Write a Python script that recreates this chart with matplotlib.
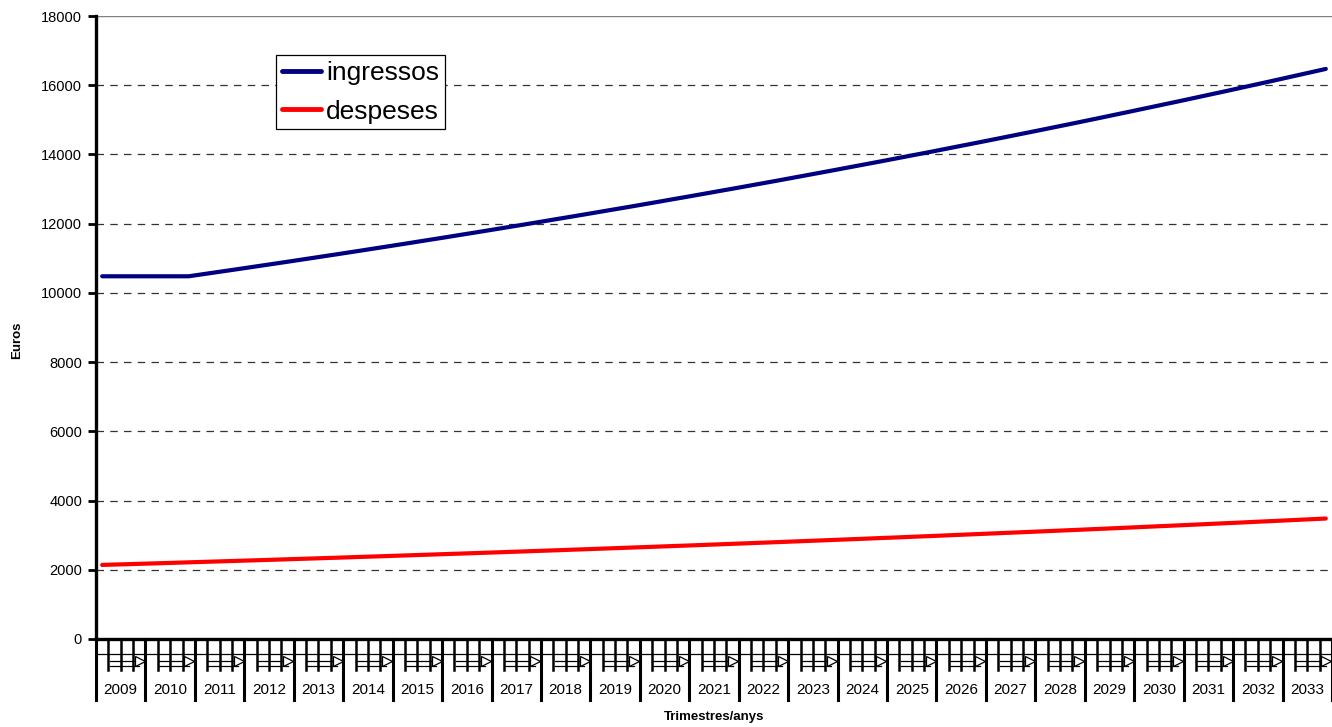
import numpy as np
import matplotlib.pyplot as plt
from matplotlib.lines import Line2D

plt.rcParams['font.family'] = ['Liberation Sans', 'DejaVu Sans']

# anys del període (4 trimestres per any)
anys = [str(a) for a in range(2009, 2034)]
trimestres = 4

# ingressos trimestrals (euros)
ingressos = [
    10480, 10480, 10480, 10480,
    10480, 10480, 10480, 10480,
    10532, 10584, 10636, 10688,
    10741, 10794, 10847, 10900,
    10954, 11008, 11062, 11116,
    11171, 11226, 11282, 11337,
    11393, 11449, 11506, 11562,
    11619, 11677, 11734, 11792,
    11850, 11909, 11967, 12026,
    12086, 12146, 12205, 12265,
    12326, 12387, 12447, 12508,
    12570, 12632, 12695, 12757,
    12820, 12883, 12947, 13010,
    13074, 13139, 13203, 13268,
    13334, 13400, 13466, 13532,
    13599, 13666, 13733, 13800,
    13868, 13937, 14005, 14074,
    14144, 14214, 14284, 14354,
    14425, 14496, 14568, 14639,
    14711, 14784, 14856, 14929,
    15003, 15077, 15152, 15226,
    15302, 15377, 15453, 15528,
    15605, 15682, 15759, 15836,
    15915, 15994, 16072, 16151,
    16231, 16311, 16391, 16471,
]

# despeses trimestrals (euros)
despeses = [
    2140, 2151, 2161, 2172,
    2182, 2193, 2204, 2215,
    2226, 2237, 2248, 2259,
    2270, 2281, 2292, 2304,
    2315, 2326, 2338, 2349,
    2361, 2373, 2384, 2396,
    2408, 2420, 2432, 2444,
    2456, 2468, 2480, 2492,
    2504, 2517, 2529, 2542,
    2554, 2567, 2580, 2592,
    2605, 2618, 2631, 2644,
    2657, 2670, 2683, 2696,
    2709, 2723, 2736, 2750,
    2763, 2777, 2790, 2804,
    2818, 2832, 2846, 2860,
    2874, 2888, 2902, 2917,
    2931, 2945, 2960, 2974,
    2989, 3004, 3019, 3034,
    3049, 3064, 3079, 3094,
    3109, 3124, 3140, 3155,
    3171, 3186, 3202, 3218,
    3234, 3250, 3266, 3282,
    3298, 3314, 3331, 3347,
    3363, 3380, 3397, 3413,
    3430, 3447, 3464, 3481,
]

y_ticks = list(range(0, 18001, 2000))

n = len(ingressos)
x = np.arange(n) + 0.5

fig = plt.figure(figsize=(13.32, 7.27), dpi=100)
ax = fig.add_axes([96 / 1332, 88 / 727, 1 - 96 / 1332, 623 / 727])

ax.plot(x, ingressos, color='#000080', lw=3.0, solid_capstyle='round', label='ingressos', zorder=3)
ax.plot(x, despeses, color='#ff0000', lw=3.0, solid_capstyle='round', label='despeses', zorder=3)

ax.set_xlim(0, n)
ax.set_ylim(0, 18000)
ax.set_yticks(y_ticks)
ax.set_yticklabels([str(v) for v in y_ticks], fontsize=10.5)
ax.tick_params(axis='y', direction='out', length=6, width=2, pad=4)
ax.set_xticks([])

# graella horitzontal discontínua
for v in y_ticks[1:-1]:
    ax.axhline(v, color='#333333', lw=0.9, ls=(0, (6, 5)), zorder=1)
ax.axhline(18000, color='#808080', lw=1.0, zorder=1)

for s in ['top', 'right']:
    ax.spines[s].set_visible(False)
ax.spines['left'].set_linewidth(2.4)
ax.spines['bottom'].set_linewidth(2.4)

# eix de categories: trimestres i anys
tr = ax.get_xaxis_transform()
for i in range(n + 1):
    if i % trimestres == 0:
        ax.add_line(Line2D([i, i], [0, -0.098], transform=tr, color='black', lw=2.2, clip_on=False))
    else:
        ax.add_line(Line2D([i, i], [0, -0.05], transform=tr, color='black', lw=1.8, clip_on=False))
ax.add_line(Line2D([0, n], [-0.024, -0.024], transform=tr, color='black', lw=0.9, clip_on=False))
for k, a in enumerate(anys):
    x0 = k * trimestres
    for yy in (-0.035, -0.043):
        ax.add_line(Line2D([x0 + 1.1, x0 + 3.5], [yy, yy], transform=tr, color='black', lw=0.9, clip_on=False))
    ax.plot([x0 + 3.55], [-0.035], transform=tr, marker='>', ms=7, mfc='white', mec='black',
            mew=0.9, clip_on=False)
    ax.text(x0 + trimestres / 2, -0.082, a, transform=tr, ha='center', va='center', fontsize=11)

ax.text(0.5, -0.125, 'Trimestres/anys', transform=ax.transAxes, ha='center', va='center',
        fontsize=9.5, fontweight='bold')
fig.text(17 / 1332, 1 - 340 / 727, 'Euros', rotation=90, ha='center', va='center',
         fontsize=9.5, fontweight='bold')

leg = ax.legend(loc='upper left', bbox_to_anchor=(0.146, 0.937), borderaxespad=0, fontsize=19,
                frameon=True, fancybox=False, handlelength=1.45, handletextpad=0.2,
                labelspacing=0.55, borderpad=0.22)
leg.get_frame().set_edgecolor('black')
leg.get_frame().set_linewidth(0.9)
leg.get_frame().set_alpha(1)
for h in leg.get_lines():
    h.set_linewidth(3.5)

fig.savefig('out.png', dpi=100)
